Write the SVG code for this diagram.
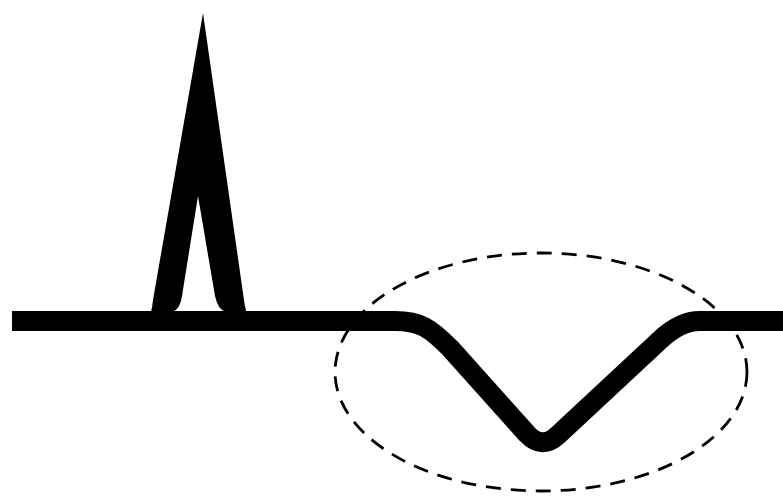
<svg xmlns="http://www.w3.org/2000/svg" width="783" height="498" viewBox="0 0 783 498">
<style>
.wave{fill:none;stroke:#000;stroke-width:20;stroke-linejoin:round}
.region{fill:none;stroke:#000;stroke-width:2.8;stroke-dasharray:15 10}
</style>
<rect width="783" height="498" fill="#fff"/>
<g id="connectors">
<path class="wave" d="M 12 321 L 395 321 C 420 321 430 328 450 348 L 527 434 Q 542 450 558 435 L 660 340 Q 680 321 700 321 L 783 321"/>
</g>
<g id="peak">
<path fill="#000" fill-rule="evenodd" d="M 135 331 Q 150 330 153 300 L 203 13 L 244 300 Q 248 330 262 331 Z M 172 312 Q 180 310 182 296 L 198 196 L 215 296 Q 218 310 226 312 Z"/>
</g>
<g id="dip-region">
<ellipse class="region" cx="541" cy="372" rx="206" ry="119"/>
</g>
</svg>
